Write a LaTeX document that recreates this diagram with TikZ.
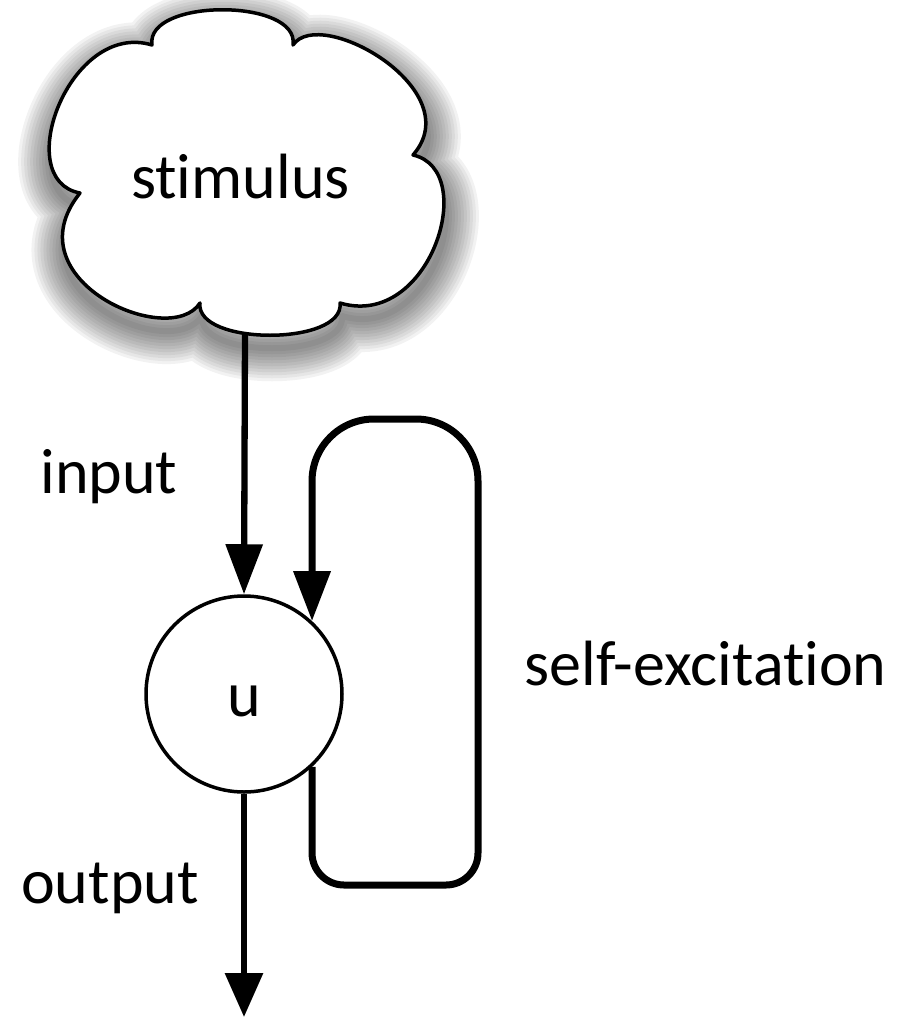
\documentclass[tikz,border=0pt]{standalone}
\usepackage{fontspec}
\setmainfont{Carlito}[Ligatures=NoCommon]
\usetikzlibrary{arrows.meta}
\begin{document}
\begin{tikzpicture}[x=1pt,y=-1pt,
  lbl/.style={font=\fontsize{64}{77}\selectfont, inner sep=0pt},
  wire/.style={line width=6.3pt},
  tipA/.style={-{Triangle[length=50pt,width=36pt]}},
  tipO/.style={-{Triangle[length=44pt,width=37pt]}},
  loopline/.style={line width=7pt},
  cloudpath/.style={insert path={(152,45) .. controls (145,-2) and (300,-2) .. (293,45)
    .. controls (320,5) and (470,90) .. (413,155)
    .. controls (480,170) and (430,330) .. (340,303)
    .. controls (345,346) and (195,346) .. (200,303)
    .. controls (170,350) and (10,280) .. (80,193)
    .. controls (10,180) and (70,20) .. cycle}},
  cloudline/.style={draw=black, line width=3.5pt, fill=white, line join=round},
  shadowband/.style={draw=black, line join=round, shift={(2,13)}}]
\useasboundingbox (0,0) rectangle (902,1017);
% cloud shadow (soft, built from translucent bands)
\foreach \w in {66,60,54,48,42,36,30,24,18,12,6}{
  \path[shadowband, line width=\w pt, opacity=0.05, cloudpath];
}
% cloud
\path[cloudline, cloudpath];
\node[lbl, anchor=base] (stim) at (240.5,198) {stimulus};
\coordinate (cb) at (245,334);
% unit
\node[circle, draw, line width=3.5pt, minimum size=196pt, font=\fontsize{64}{77}\selectfont,
  text height=44pt, text depth=0pt] (u) at (244,694) {u};
\coordinate (out) at (244,1017);
% connectors
\draw[wire, tipA] (cb) -- (u.north);
\draw[wire, tipO] (u.south) -- (out);
\draw[loopline, tipA, rounded corners=32pt] (u.-47) |- (478,885)
  [rounded corners=62pt] -- (478,419) -| (u.47);
% labels
\node[lbl, anchor=base] (inl) at (109,493) {input};
\node[lbl, anchor=base] (sel) at (705.5,685) {self-excitation};
\node[lbl, anchor=base] (outl) at (110,903) {output};
\end{tikzpicture}
\end{document}
